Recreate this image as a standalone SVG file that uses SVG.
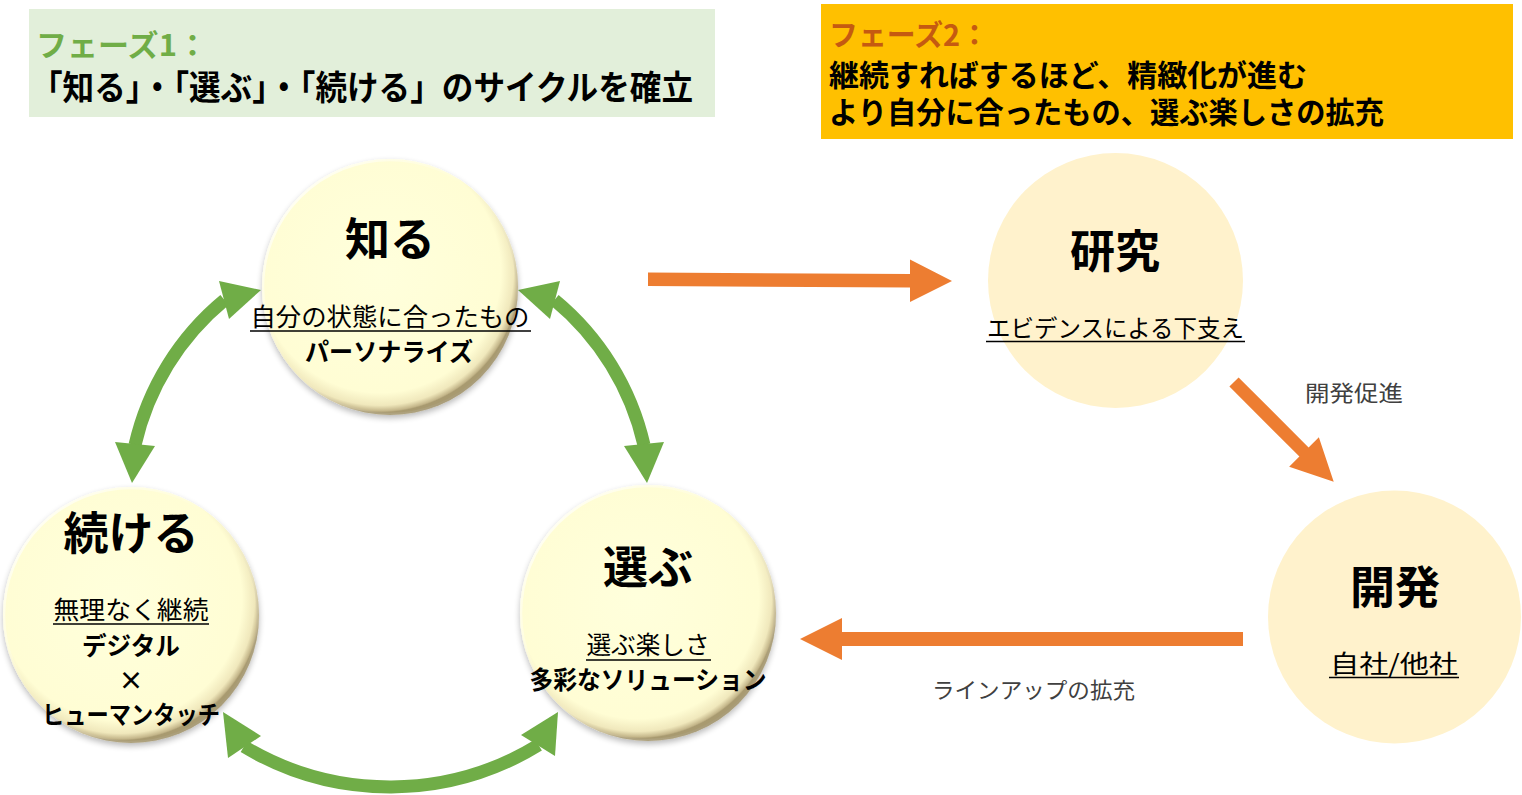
<svg xmlns="http://www.w3.org/2000/svg" width="1522" height="795" viewBox="0 0 1522 795">
<defs>
<style>
text{font-family:"Noto Sans CJK JP","Noto Sans",sans-serif;fill:#000}
.b{font-weight:bold}
.t{font-size:45px;font-weight:bold;text-anchor:middle}
.s{font-size:25px;text-anchor:middle}
.sb{font-size:25px;font-weight:bold;text-anchor:middle}
.lbl{font-size:22px;fill:#404040}
.ul{stroke:#000;stroke-width:1.5}
.g{fill:#70AD47}
.gs{fill:none;stroke:#70AD47;stroke-width:13}
.o{fill:#ED7D31}
.p2{fill:#FFF2CC}
</style>
<radialGradient id="bev" cx="0.46" cy="0.44" r="0.55">
<stop offset="0" stop-color="#FFFFDC"/>
<stop offset="0.86" stop-color="#FFFDD4"/>
<stop offset="0.95" stop-color="#F0E8BC"/>
<stop offset="0.99" stop-color="#C4B68A"/>
<stop offset="1" stop-color="#A89A70"/>
</radialGradient>
<linearGradient id="hl" x1="0" y1="0" x2="1" y2="1">
<stop offset="0" stop-color="#FFFFFF" stop-opacity="0.95"/>
<stop offset="0.45" stop-color="#FFFFFF" stop-opacity="0"/>
<stop offset="1" stop-color="#8A7C55" stop-opacity="0.55"/>
</linearGradient>
<filter id="sh" x="-20%" y="-20%" width="140%" height="140%">
<feGaussianBlur in="SourceAlpha" stdDeviation="3"/>
<feOffset dy="3" result="b"/>
<feComponentTransfer><feFuncA type="linear" slope="0.28"/></feComponentTransfer>
<feMerge><feMergeNode/><feMergeNode in="SourceGraphic"/></feMerge>
</filter>
</defs>

<g id="phase1">
<rect x="29" y="9" width="686" height="108" fill="#E2EFDA"/>
<text x="36" y="56" class="b" font-size="30" style="fill:#70AD47" textLength="172" lengthAdjust="spacingAndGlyphs">フェーズ1：</text>
<text x="31" y="100" class="b" font-size="34" textLength="662" lengthAdjust="spacingAndGlyphs">「知る」・「選ぶ」・「続ける」のサイクルを確立</text>
</g>

<g id="phase2">
<rect x="821" y="4" width="692" height="135" fill="#FFC000"/>
<text x="829" y="46" class="b" font-size="29" style="fill:#C55A11" textLength="160" lengthAdjust="spacingAndGlyphs">フェーズ2：</text>
<text x="829" y="86" class="b" font-size="30" textLength="478" lengthAdjust="spacingAndGlyphs">継続すればするほど、精緻化が進む</text>
<text x="829" y="123" class="b" font-size="30" textLength="555" lengthAdjust="spacingAndGlyphs">より自分に合ったもの、選ぶ楽しさの拡充</text>
</g>

<g id="connectors">
<path class="gs" d="M224.5,300 A264,264 0 0 0 135,445"/>
<polygon class="g" points="261,290 219,281 229,319"/>
<polygon class="g" points="132,483 115,442 155,446"/>
<path class="gs" d="M554.5,300 A264,264 0 0 1 644,445"/>
<polygon class="g" points="518,290 560,281 550,319"/>
<polygon class="g" points="647,483 664,442 624,446"/>
<path class="gs" d="M244,746.5 A284,284 0 0 0 538.5,745"/>
<polygon class="g" points="223,712 228,758 261,736"/>
<polygon class="g" points="558,712 521,735 555,756"/>
<polygon class="o" points="648,272.5 910,274 910,259.5 952,281 910,302 910,287.5 648,286"/>
<polygon class="o" transform="translate(1234,382) rotate(45)" points="0,-6.5 99,-6.5 99,-21 141,0 99,21 99,6.5 0,6.5"/>
<polygon class="o" points="1243,632 842,632 842,618 800,639 842,660 842,646 1243,646"/>
<text x="1305" y="401" class="lbl" textLength="98" lengthAdjust="spacingAndGlyphs">開発促進</text>
<text x="932" y="698" class="lbl" textLength="203" lengthAdjust="spacingAndGlyphs">ラインアップの拡充</text>
</g>

<g id="node-shiru">
<circle cx="390" cy="287" r="128" fill="url(#bev)" filter="url(#sh)"/>
<circle cx="390" cy="287" r="127" fill="none" stroke="url(#hl)" stroke-width="2.5"/>
<text x="390" y="256" class="t">知る</text>
<text x="390" y="326" class="s" textLength="279" lengthAdjust="spacingAndGlyphs">自分の状態に合ったもの</text>
<line class="ul" x1="250" y1="331" x2="531" y2="331"/>
<text x="389" y="361" class="sb" textLength="168" lengthAdjust="spacingAndGlyphs">パーソナライズ</text>
</g>

<g id="node-tsuzukeru">
<circle cx="131" cy="615" r="128" fill="url(#bev)" filter="url(#sh)"/>
<circle cx="131" cy="615" r="127" fill="none" stroke="url(#hl)" stroke-width="2.5"/>
<text x="131" y="550" class="t">続ける</text>
<text x="131" y="619" class="s" textLength="155" lengthAdjust="spacingAndGlyphs">無理なく継続</text>
<line class="ul" x1="53" y1="624" x2="209" y2="624"/>
<text x="131" y="655" class="sb" textLength="98" lengthAdjust="spacingAndGlyphs">デジタル</text>
<text x="131" y="690" class="sb">×</text>
<text x="131" y="724" class="sb" textLength="178" lengthAdjust="spacingAndGlyphs">ヒューマンタッチ</text>
</g>

<g id="node-erabu">
<circle cx="648" cy="613" r="128" fill="url(#bev)" filter="url(#sh)"/>
<circle cx="648" cy="613" r="127" fill="none" stroke="url(#hl)" stroke-width="2.5"/>
<text x="648" y="584" class="t">選ぶ</text>
<text x="648" y="654" class="s" textLength="123" lengthAdjust="spacingAndGlyphs">選ぶ楽しさ</text>
<line class="ul" x1="586" y1="660" x2="711" y2="660"/>
<text x="648" y="689" class="sb" textLength="237" lengthAdjust="spacingAndGlyphs">多彩なソリューション</text>
</g>

<g id="node-kenkyu">
<circle class="p2" cx="1115.5" cy="280.5" r="127.5"/>
<text x="1115" y="268" class="t">研究</text>
<text x="1115.5" y="337" class="s" style="font-size:24px" textLength="257" lengthAdjust="spacingAndGlyphs">エビデンスによる下支え</text>
<line class="ul" x1="986" y1="341.5" x2="1245" y2="341.5"/>
</g>

<g id="node-kaihatsu">
<circle class="p2" cx="1394.5" cy="617" r="126.5"/>
<text x="1395" y="604" class="t">開発</text>
<text x="1394" y="673" class="s" textLength="128" lengthAdjust="spacingAndGlyphs">自社/他社</text>
<line class="ul" x1="1329" y1="677.5" x2="1459" y2="677.5"/>
</g>
</svg>
